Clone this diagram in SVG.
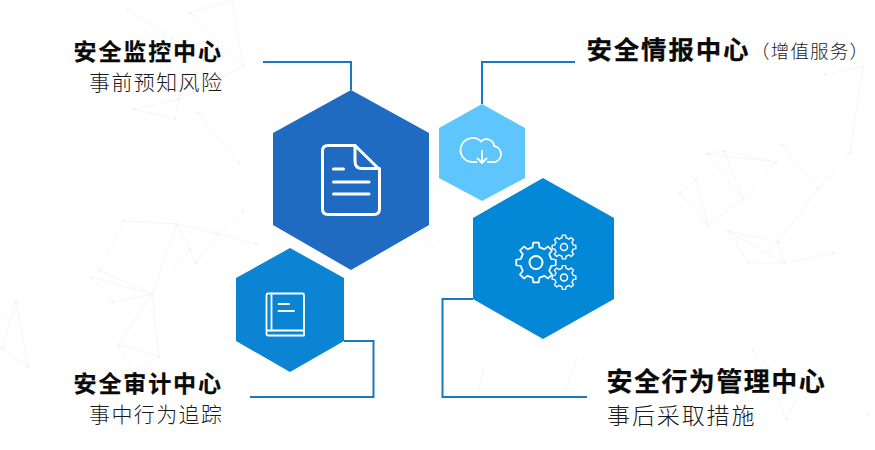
<svg xmlns="http://www.w3.org/2000/svg" xmlns:xlink="http://www.w3.org/1999/xlink" width="875" height="450" viewBox="0 0 875 450">
<style>
text{font-family:"Noto Sans CJK SC","Microsoft YaHei","Liberation Sans",sans-serif;fill:#111}
.b{font-weight:700;fill:#0a0a0a;stroke:#0a0a0a;stroke-width:.25}
.s{font-weight:300;fill:#1a1a1a}
.bg line{stroke:#f6f6f6;stroke-width:1}
.bg circle{fill:#f3f3f3}
.conn{fill:none;stroke:#1a78c0;stroke-width:2}
.ic{fill:none;stroke:#fff;stroke-linecap:round;stroke-linejoin:round}
</style>
<defs>
<path id="tooth" d="M-5.93-14.32L-3.49-15.1L-2.78-19.8L2.78-19.8L3.49-15.1L5.93-14.32"/>
<g id="gear">
<use xlink:href="#tooth" href="#tooth"/>
<use xlink:href="#tooth" href="#tooth" transform="rotate(45)"/>
<use xlink:href="#tooth" href="#tooth" transform="rotate(90)"/>
<use xlink:href="#tooth" href="#tooth" transform="rotate(135)"/>
<use xlink:href="#tooth" href="#tooth" transform="rotate(180)"/>
<use xlink:href="#tooth" href="#tooth" transform="rotate(225)"/>
<use xlink:href="#tooth" href="#tooth" transform="rotate(270)"/>
<use xlink:href="#tooth" href="#tooth" transform="rotate(315)"/>
</g>
</defs>
<rect width="875" height="450" fill="#fff"/>
<g class="bg">
<line x1="128" y1="10" x2="190" y2="50"/><line x1="190" y1="13" x2="232" y2="0"/><line x1="190" y1="13" x2="243" y2="66"/><line x1="232" y1="0" x2="243" y2="66"/>
<line x1="133" y1="109" x2="179" y2="99"/><line x1="133" y1="109" x2="175" y2="119"/><line x1="179" y1="99" x2="175" y2="119"/><line x1="198" y1="113" x2="239" y2="163"/><line x1="179" y1="99" x2="243" y2="66"/>
<line x1="124" y1="221" x2="177" y2="224"/><line x1="124" y1="221" x2="99" y2="270"/><line x1="177" y1="224" x2="218" y2="234"/><line x1="218" y1="234" x2="256" y2="244"/><line x1="218" y1="234" x2="243" y2="211"/><line x1="177" y1="224" x2="190" y2="250"/><line x1="190" y1="250" x2="196" y2="263"/><line x1="218" y1="234" x2="196" y2="263"/><line x1="190" y1="250" x2="152" y2="294"/><line x1="177" y1="224" x2="152" y2="294"/><line x1="99" y1="270" x2="152" y2="294"/><line x1="91" y1="277" x2="152" y2="294"/><line x1="91" y1="277" x2="113" y2="302"/><line x1="113" y1="302" x2="152" y2="294"/><line x1="152" y1="294" x2="118" y2="345"/><line x1="152" y1="294" x2="159" y2="356"/><line x1="118" y1="345" x2="159" y2="356"/><line x1="118" y1="345" x2="133" y2="373"/><line x1="159" y1="356" x2="133" y2="373"/>
<line x1="16" y1="301" x2="2" y2="348"/><line x1="16" y1="301" x2="28" y2="367"/><line x1="2" y1="348" x2="28" y2="367"/><line x1="0" y1="318" x2="16" y2="301"/>
<line x1="825" y1="74" x2="863" y2="67"/><line x1="863" y1="67" x2="850" y2="153"/><line x1="850" y1="153" x2="818" y2="189"/><line x1="782" y1="145" x2="818" y2="189"/><line x1="818" y1="189" x2="778" y2="242"/><line x1="778" y1="242" x2="749" y2="263"/><line x1="778" y1="242" x2="785" y2="263"/><line x1="728" y1="231" x2="778" y2="242"/><line x1="728" y1="231" x2="749" y2="263"/><line x1="728" y1="231" x2="785" y2="263"/><line x1="749" y1="263" x2="785" y2="263"/><line x1="785" y1="263" x2="833" y2="253"/><line x1="708" y1="225" x2="680" y2="193"/><line x1="680" y1="193" x2="696" y2="180"/><line x1="696" y1="180" x2="708" y2="225"/><line x1="708" y1="225" x2="743" y2="199"/><line x1="743" y1="199" x2="776" y2="162"/><line x1="743" y1="199" x2="707" y2="154"/><line x1="743" y1="199" x2="724" y2="151"/><line x1="707" y1="154" x2="724" y2="151"/><line x1="724" y1="151" x2="776" y2="162"/><line x1="707" y1="154" x2="776" y2="162"/>
<line x1="753" y1="350" x2="797" y2="397"/><line x1="753" y1="350" x2="787" y2="419"/><line x1="797" y1="397" x2="787" y2="419"/>
<line x1="484" y1="367" x2="478" y2="392"/><line x1="577" y1="357" x2="565" y2="392"/><line x1="420" y1="240" x2="437" y2="250"/>
<circle cx="128" cy="10" r="1.500"/><circle cx="190" cy="13" r="1.500"/><circle cx="243" cy="66" r="1.500"/><circle cx="133" cy="109" r="1.500"/><circle cx="179" cy="99" r="1.500"/><circle cx="175" cy="119" r="1.500"/><circle cx="198" cy="113" r="1.500"/><circle cx="239" cy="163" r="1.500"/>
<circle cx="124" cy="221" r="1.500"/><circle cx="177" cy="224" r="1.500"/><circle cx="218" cy="234" r="1.500"/><circle cx="243" cy="211" r="1.500"/><circle cx="256" cy="244" r="1.500"/><circle cx="190" cy="250" r="1.500"/><circle cx="196" cy="263" r="1.500"/><circle cx="99" cy="270" r="1.500"/><circle cx="91" cy="277" r="1.500"/><circle cx="152" cy="294" r="1.500"/><circle cx="113" cy="302" r="1.500"/><circle cx="118" cy="345" r="1.500"/><circle cx="159" cy="356" r="1.500"/><circle cx="16" cy="301" r="1.500"/><circle cx="2" cy="348" r="1.500"/><circle cx="28" cy="367" r="1.500"/>
<circle cx="825" cy="74" r="1.500"/><circle cx="863" cy="67" r="1.500"/><circle cx="850" cy="153" r="1.500"/><circle cx="818" cy="189" r="1.500"/><circle cx="782" cy="145" r="1.500"/><circle cx="778" cy="242" r="1.500"/><circle cx="749" cy="263" r="1.500"/><circle cx="785" cy="263" r="1.500"/><circle cx="833" cy="253" r="1.500"/><circle cx="728" cy="231" r="1.500"/><circle cx="708" cy="225" r="1.500"/><circle cx="680" cy="193" r="1.500"/><circle cx="696" cy="180" r="1.500"/><circle cx="743" cy="199" r="1.500"/><circle cx="776" cy="162" r="1.500"/><circle cx="724" cy="151" r="1.500"/><circle cx="707" cy="154" r="1.500"/><circle cx="753" cy="350" r="1.500"/><circle cx="787" cy="419" r="1.500"/><circle cx="868" cy="414" r="1.500"/>
</g>
<g id="connectors">
<path class="conn" d="M263 62H351V90"/>
<path class="conn" d="M482 104V62H575"/>
<path class="conn" d="M344 341H373.500V397H250"/>
<path class="conn" d="M473 299H442.500V397H587"/>
</g>
<g id="node-monitor">
<polygon points="351,90 429,133 429,225 351,270 273,225 273,133" fill="#1f6bc1"/>
<g class="ic" stroke-width="3">
<path d="M355 145.500H328Q322.500 145.500 322.500 151V209Q322.500 214.500 328 214.500H374Q379.500 214.500 379.500 209V169.500Z"/>
<path d="M355 145.500V161Q355 168.500 362 168.500H379.500"/>
<path d="M333.500 169H343.500M333.500 182H369M333.500 194H369"/>
</g>
<text class="b" x="73.500" y="60" font-size="23" letter-spacing="1.900">安全监控中心</text>
<text class="s" x="89" y="90" font-size="21" letter-spacing="1.400">事前预知风险</text>
</g>
<g id="node-intel">
<polygon points="482,104 525,128 525,178 482,201 439,178 439,128" fill="#5fc6fd"/>
<path class="ic" stroke-width="1.800" d="M476.500 162H473A12 12 0 1 1 481 141.500A7.500 7.500 0 0 1 494 146A8.300 8.300 0 0 1 495.500 162H488M482 151V163M477.500 158.500L482 163L486.500 158.500"/>
<text class="b" x="586.500" y="59" font-size="25.500" letter-spacing="1.800">安全情报中心</text>
<text class="s" x="751" y="58" font-size="18.500" letter-spacing="1.200">（增值服务）</text>
</g>
<g id="node-behavior">
<polygon points="543,178 614,218 614,299 543,339 473,299 473,218" fill="#0388d8"/>
<g class="ic">
<use xlink:href="#gear" href="#gear" transform="translate(536 262.500)" stroke-width="1.700"/>
<circle cx="536" cy="262.500" r="6.500" stroke-width="2"/>
<use xlink:href="#gear" href="#gear" transform="translate(564 247) scale(.6)" stroke-width="2.200"/>
<circle cx="564" cy="247" r="3.500" stroke-width="1.500"/>
<use xlink:href="#gear" href="#gear" transform="translate(564 277.500) scale(.6)" stroke-width="2.200"/>
<circle cx="564" cy="277.500" r="3.500" stroke-width="1.500"/>
</g>
<text class="b" x="606.500" y="391" font-size="26" letter-spacing="1.450">安全行为管理中心</text>
<text class="s" x="607" y="424" font-size="23" letter-spacing="1.900">事后采取措施</text>
</g>
<g id="node-audit">
<polygon points="290,248 344,278 344,341 290,372 236,341 236,278" fill="#0a84d3"/>
<g class="ic" stroke-width="1.800">
<path d="M304 330.500H268Q266.500 330.500 266.500 329V295Q266.500 293.500 268 293.500H302.500Q304 293.500 304 295V335.500H268Q266.500 335.500 266.500 334V329"/>
<path d="M271.500 293.500V330.500M278.500 304H289M278.500 311H294"/>
</g>
<text class="b" x="73.500" y="392" font-size="23" letter-spacing="1.900">安全审计中心</text>
<text class="s" x="89" y="422" font-size="21" letter-spacing="1.400">事中行为追踪</text>
</g>
</svg>
